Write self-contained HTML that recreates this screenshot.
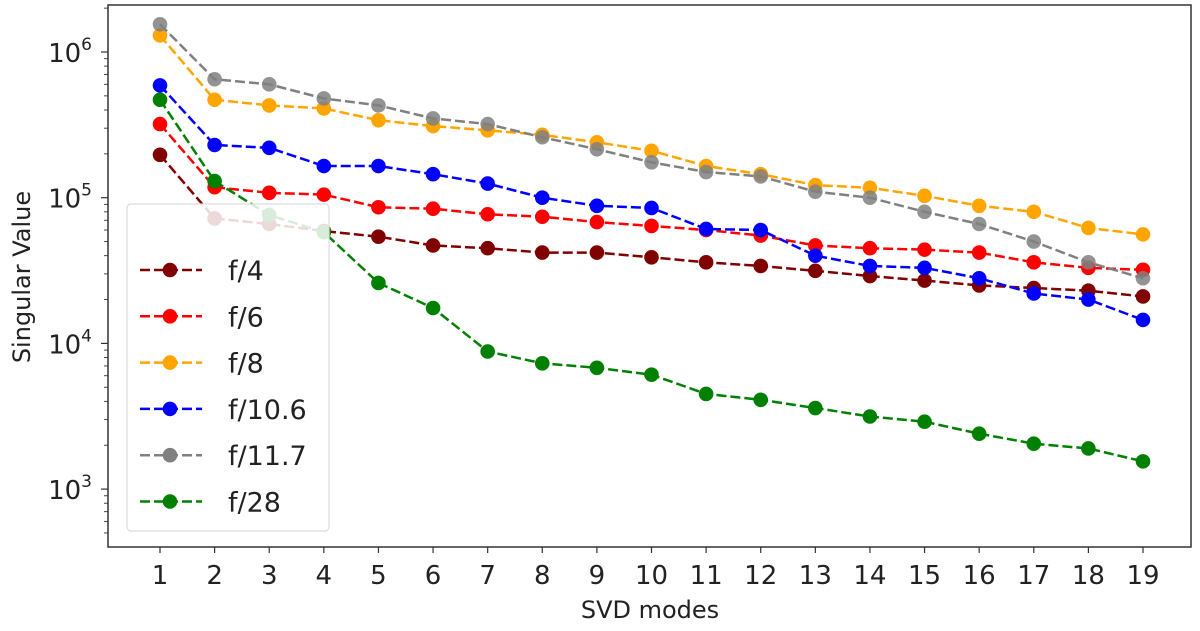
<!DOCTYPE html>
<html><head><meta charset="utf-8"><style>
body{margin:0;background:#fff;}
svg{display:block;font-family:"DejaVu Sans","Liberation Sans",sans-serif;}
</style></head><body>
<svg id="chart" width="1200" height="631" viewBox="0 0 1200 631" xmlns="http://www.w3.org/2000/svg">
<rect x="0" y="0" width="1200" height="631" fill="#fff"/>
<g id="marks"></g>
<rect x="108" y="5" width="1083" height="542" fill="none" stroke="#333" stroke-width="1.5"/>
<g id="axes"></g>
<text x="650" y="618" font-size="24" text-anchor="middle" fill="#222">SVD modes</text>
<text transform="translate(30,277) rotate(-90)" font-size="24" text-anchor="middle" fill="#222">Singular Value</text>
<g id="legend"></g>
</svg>
<script>
const modes = [1,2,3,4,5,6,7,8,9,10,11,12,13,14,15,16,17,18,19];
const seriesNames = ["f/4","f/6","f/8","f/10.6","f/11.7","f/28"];
const seriesColors = ["#800000","#ff0000","#ffa500","#0000ff","#808080","#008000"];
const f4 = [197e3,72e3,66e3,59e3,54e3,47e3,45e3,42e3,42e3,39e3,36e3,34e3,31.5e3,29e3,27e3,25e3,24e3,23e3,21e3];
const f6 = [320e3,118e3,108e3,105e3,86e3,84e3,77e3,74e3,68e3,64e3,60e3,55e3,47e3,45e3,44e3,42e3,36e3,33e3,32e3];
const f8 = [1.3e6,470e3,430e3,410e3,340e3,310e3,290e3,270e3,240e3,210e3,165e3,145e3,122e3,117e3,103e3,88e3,80e3,62e3,56e3];
const f106 = [590e3,230e3,220e3,165e3,165e3,145e3,125e3,100e3,88e3,85e3,61e3,60e3,40e3,34e3,33e3,28e3,22e3,20e3,14.5e3];
const f117 = [1.55e6,650e3,600e3,480e3,430e3,350e3,320e3,260e3,215e3,175e3,150e3,140e3,110e3,100e3,80e3,66e3,50e3,36e3,28e3];
const f28 = [470e3,130e3,76e3,58e3,26e3,17.5e3,8.8e3,7.3e3,6.8e3,6.1e3,4.5e3,4.1e3,3.6e3,3.15e3,2.9e3,2.4e3,2.05e3,1.9e3,1.55e3];
const yTickExps = [3,4,5,6];

const allSeries = [f4,f6,f8,f106,f117,f28];
const NS = "http://www.w3.org/2000/svg";
function xs(m){ return 160 + (m-1)*(1143-160)/18; }
function ys(v){ return 52 + (6 - Math.log10(v))*145.7; }
function mk(tag, attrs, parent){ const e=document.createElementNS(NS,tag); for(const k in attrs) e.setAttribute(k,attrs[k]); parent.appendChild(e); return e; }
const axes=document.getElementById('axes'), marks=document.getElementById('marks'), legend=document.getElementById('legend');

modes.forEach(m=>{
  const t=mk('line',{x1:xs(m),x2:xs(m),y1:547,y2:553,stroke:'#333','stroke-width':1.2},axes);
  
  
  const l=mk('text',{x:xs(m),y:584,'font-size':26,'text-anchor':'middle',fill:'#222'},axes);
  l.textContent=m;
  
  
});
yTickExps.forEach(e=>{
  const y=ys(Math.pow(10,e));
  const t=mk('line',{x1:101,x2:108,y1:y,y2:y,stroke:'#333','stroke-width':1.2},axes);
  
  
  const l=mk('text',{x:92,y:y+10,'font-size':26,'text-anchor':'end',fill:'#222'},axes);
  l.innerHTML='10<tspan dy="-12" font-size="17">'+e+'</tspan>';
  
  
});
for(let e=2;e<=6;e++){ for(let k=2;k<=9;k++){ const v=k*Math.pow(10,e); const y=ys(v); if(y<5||y>547) continue;
  const t=mk('line',{x1:104,x2:108,y1:y,y2:y,stroke:'#333','stroke-width':0.9},axes);
  
  
}}

allSeries.forEach((s,i)=>{
  const g=mk('g',{},marks);
  
  
  const pts=s.map((v,j)=>xs(modes[j])+','+ys(v)).join(' ');
  const pl=mk('polyline',{points:pts,fill:'none',stroke:seriesColors[i],'stroke-width':2.5,'stroke-dasharray':'10,4'},g);
  
  
  s.forEach((v,j)=>{
    const c=mk('circle',{cx:xs(modes[j]),cy:ys(v),r:7.3,fill:seriesColors[i],'fill-opacity':i===4?0.85:1},g);
    
    
  });
});

const lb=mk('rect',{x:127,y:204,width:202,height:327,rx:4,fill:'#fff','fill-opacity':0.85,stroke:'#ddd','stroke-width':1.2},legend);


seriesNames.forEach((n,i)=>{
  const y=270+i*46.3;
  const g=mk('g',{},legend);
  
  
  mk('line',{x1:140,x2:202,y1:y,y2:y,stroke:seriesColors[i],'stroke-width':2.5,'stroke-dasharray':'10,4'},g);
  mk('circle',{cx:170,cy:y,r:7.3,fill:seriesColors[i]},g);
  const t=mk('text',{x:228,y:y+10,'font-size':27,fill:'#222'},g);
  t.textContent=n;
  
  
});
</script>
</body></html>
